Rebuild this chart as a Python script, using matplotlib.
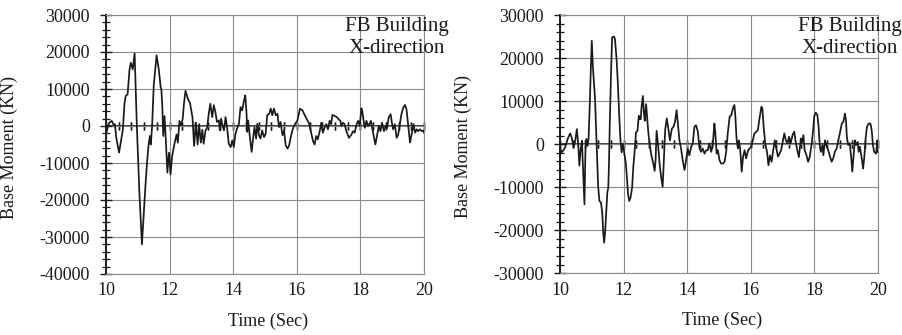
import numpy as np
import matplotlib
matplotlib.use("Agg")
import matplotlib.pyplot as plt
from matplotlib.ticker import MultipleLocator

# ---------------- data ----------------
t_left = [10.00, 10.05, 10.10, 10.18, 10.24, 10.28, 10.32, 10.41, 10.48, 10.53, 10.58, 10.62, 10.68,
          10.74, 10.78, 10.84, 10.90, 10.97, 11.05, 11.13, 11.24, 11.29, 11.34, 11.38, 11.41, 11.45,
          11.50, 11.59, 11.66, 11.72, 11.74, 11.77, 11.80, 11.84, 11.88, 11.93, 11.98, 12.03, 12.08,
          12.16, 12.22, 12.26, 12.31, 12.36, 12.41, 12.45, 12.50, 12.58, 12.64, 12.72, 12.77, 12.83,
          12.88, 12.93, 12.98, 13.03, 13.07, 13.13, 13.18, 13.23, 13.28, 13.34, 13.39, 13.44, 13.49,
          13.55, 13.58, 13.62, 13.66, 13.71, 13.76, 13.81, 13.86, 13.92, 13.97, 14.02, 14.07, 14.12,
          14.18, 14.23, 14.28, 14.34, 14.38, 14.42, 14.44, 14.47, 14.53, 14.58, 14.63, 14.67, 14.72,
          14.76, 14.81, 14.86, 14.91, 14.97, 15.02, 15.07, 15.13, 15.18, 15.23, 15.28, 15.34, 15.39,
          15.44, 15.49, 15.55, 15.60, 15.65, 15.71, 15.76, 15.81, 15.86, 15.92, 16.02, 16.10, 16.18,
          16.23, 16.28, 16.39, 16.45, 16.51, 16.56, 16.61, 16.66, 16.72, 16.77, 16.82, 16.87, 16.93,
          16.98, 17.03, 17.08, 17.12, 17.19, 17.26, 17.32, 17.37, 17.40, 17.45, 17.50, 17.56, 17.64,
          17.72, 17.77, 17.82, 17.88, 17.93, 17.98, 18.03, 18.06, 18.11, 18.14, 18.19, 18.24, 18.29,
          18.33, 18.37, 18.42, 18.47, 18.53, 18.58, 18.63, 18.68, 18.74, 18.79, 18.84, 18.89, 18.95,
          18.99, 19.03, 19.08, 19.14, 19.19, 19.24, 19.29, 19.35, 19.40, 19.45, 19.51, 19.56, 19.61,
          19.67, 19.72, 19.77, 19.82, 19.87, 19.93, 19.98, 20.00]
m_left = [-2300, -500, 800, 1400, 300, 500, -3000, -7200, -3500, -1000, 6000, 8100, 8600,
          15300, 17100, 15300, 19600, 0, -18000, -32000, -16200, -9900, -5000, -2700, -5000, 0,
          10800, 19100, 15300, 10400, 10000, 5400, -2700, 2700, -3600, -12600, -7200, -13100, -8100,
          -4500, -2300, -4500, 1400, 200, 1800, 5900, 9500, 7200, 6300, 2300, -5400, 900,
          -5000, 500, -4500, -1000, -4800, -1200, -500, 3300, 6000, 2400, 5600, 3800, 1100,
          1500, -1200, 2000, 200, -1200, 2400, -600, -4800, -5700, -3900, -5700, -2100, -700,
          600, 5100, 4200, 6900, 8300, 3300, -1600, 1500, -3400, -7000, -3000, -300, -3400,
          600, -2500, -3400, -1200, -3000, -2100, 2900, 3300, 4700, 2900, 4700, 2900, 3300,
          -300, 1100, -2500, -1200, -5200, -6100, -5200, -3000, -1200, 200, 1500, 4700, 4200,
          3300, 2400, 600, -1800, -4100, -5000, -2700, -3600, -1400, 900, -1800, -500, 500,
          -900, 1400, 500, 3000, 2700, 2400, 1800, 1400, 0, 900, 500, -1400, -3200,
          -2300, -1400, -1800, 500, 1400, 0, 4800, 4000, 900, -500, 1400, 0, 600,
          1400, -500, -2700, -5000, -2300, 0, -1400, 900, -1400, 0, -500, 2300, 3200,
          900, -900, 500, -3200, -2300, 500, 3200, 5000, 5700, 4500, -500, -4500, -2300,
          500, -1800, -900, -1400, -900, -1400, -1200, -1800]

t_right = [10.00, 10.05, 10.10, 10.16, 10.24, 10.32, 10.37, 10.43, 10.48, 10.53, 10.57, 10.61, 10.65,
           10.69, 10.73, 10.77, 10.80, 10.83, 10.87, 10.90, 10.94, 10.97, 11.00, 11.04, 11.10, 11.14,
           11.17, 11.20, 11.24, 11.29, 11.33, 11.36, 11.39, 11.42, 11.46, 11.49, 11.52, 11.54, 11.57,
           11.61, 11.64, 11.70, 11.73, 11.78, 11.82, 11.86, 11.90, 11.94, 11.98, 12.02, 12.07, 12.11,
           12.14, 12.18, 12.22, 12.27, 12.31, 12.35, 12.39, 12.44, 12.48, 12.51, 12.54, 12.57, 12.61,
           12.64, 12.67, 12.71, 12.74, 12.78, 12.82, 12.88, 12.93, 12.98, 13.01, 13.04, 13.09, 13.14,
           13.18, 13.23, 13.26, 13.31, 13.36, 13.41, 13.46, 13.52, 13.57, 13.62, 13.67, 13.70, 13.76,
           13.81, 13.86, 13.92, 13.97, 14.02, 14.07, 14.13, 14.18, 14.23, 14.28, 14.34, 14.39, 14.44,
           14.49, 14.55, 14.60, 14.65, 14.70, 14.76, 14.81, 14.86, 14.89, 14.93, 14.97, 15.02, 15.07,
           15.13, 15.18, 15.23, 15.28, 15.34, 15.39, 15.44, 15.49, 15.52, 15.56, 15.60, 15.63, 15.67,
           15.72, 15.76, 15.81, 15.86, 15.92, 15.97, 16.02, 16.07, 16.12, 16.18, 16.23, 16.28, 16.34,
           16.37, 16.41, 16.46, 16.52, 16.56, 16.61, 16.66, 16.71, 16.76, 16.81, 16.86, 16.91, 16.96,
           17.01, 17.06, 17.11, 17.16, 17.21, 17.26, 17.32, 17.37, 17.42, 17.47, 17.52, 17.58, 17.62,
           17.66, 17.70, 17.76, 17.81, 17.86, 17.92, 17.97, 18.00, 18.05, 18.10, 18.14, 18.18, 18.21,
           18.26, 18.29, 18.34, 18.38, 18.44, 18.49, 18.55, 18.60, 18.65, 18.71, 18.76, 18.82, 18.87,
           18.92, 18.97, 19.00, 19.03, 19.07, 19.12, 19.16, 19.20, 19.24, 19.28, 19.32, 19.37, 19.40,
           19.44, 19.49, 19.54, 19.58, 19.62, 19.66, 19.72, 19.77, 19.81, 19.85, 19.89, 19.95, 19.99,
           20.00]
m_right = [-800, -1900, -1500, -800, 1200, 2500, 1500, -800, 800, 3500, 400, -5000, -1200,
           800, -6600, -14000, -1500, 1200, -400, 1500, 9700, 17400, 24000, 17400, 10900, 2700,
           -3500, -9700, -13200, -13600, -15900, -20500, -22900, -20500, -15100, -11200, -10100, -5000, 5800,
           17400, 24800, 25000, 24400, 19800, 14300, 7400, 1200, -1900, 0, -1900, -4300, -8100,
           -11600, -13200, -12400, -10100, -5000, -1600, 2700, 3100, 6600, 5800, 5800, 8900, 11200,
           7400, 5400, 9300, 6600, 2700, 0, -2700, -4300, -6200, -3500, 3100, -400, -5000,
           -7400, -9900, -5300, 3300, 6000, 3600, 900, 3600, 4000, 5200, 7900, 5600, 900,
           -1000, -3700, -6000, -3700, -1000, -2600, -600, 200, 4000, 4400, 2900, -1000, -1800,
           -1000, -2200, -1400, -1400, 200, -1800, 0, 4800, 2500, -2200, -1400, -3700, -4500,
           -4500, -4100, -1800, 2500, 6400, 6700, 8300, 9100, 6400, 900, -1000, 900, -1000,
           -6400, -3000, -1400, -3300, -1400, -1000, -600, 900, 2500, 2900, 3300, 6000, 8700,
           8300, 4000, 200, -2000, -4900, -2600, -4100, -1500, 900, -1000, -2900, -2200, -1400,
           500, 2500, 900, 200, 1700, 200, 2100, 2900, 500, -1400, -3000, 1300, 500,
           2100, -1400, -2600, -4100, -3000, 0, 3300, 6400, 7300, 6800, 4000, -600, -1800,
           -200, -2600, 900, -200, -1400, -2600, -4100, -3300, -1800, -1000, 900, 2900, 4800,
           5200, 7100, 5600, 1700, -200, 200, -2600, -6400, -2900, 900, -200, 500, -1800,
           -600, -2900, -5700, -2900, 1300, 4000, 4800, 4800, 3300, -200, -1800, -2200, 900,
           -1800]

x_limits = (10, 20)
ylim_left = (-40000, 30000)
ylim_right = (-30000, 30000)
x_label = "Time (Sec)"
y_label = "Base Moment (KN)"
note_lines = ["FB Building", "X-direction"]

# ---------------- style ----------------
plt.rcParams['font.family'] = ['Liberation Serif', 'DejaVu Serif']
plt.rcParams['axes.unicode_minus'] = False
W, H = 902, 335
fig = plt.figure(figsize=(W / 100, H / 100), dpi=100)

GRID = '#8a8a8a'
INK = '#1a1a1a'


def make_panel(rect, t, m, ylim, note_cx):
    ax = fig.add_axes(rect)
    ax.plot(t, m, color=INK, lw=1.25, zorder=3)
    ax.set_xlim(*x_limits)
    ax.set_ylim(*ylim)
    ax.xaxis.set_major_locator(MultipleLocator(2))
    ax.yaxis.set_major_locator(MultipleLocator(10000))
    ax.yaxis.set_minor_locator(MultipleLocator(2000))
    ax.grid(True, which='major', color=GRID, lw=0.8, zorder=1)
    for s in ['top', 'right', 'bottom']:
        ax.spines[s].set_color(GRID)
        ax.spines[s].set_linewidth(0.8)
    ax.spines['left'].set_color(INK)
    ax.spines['left'].set_linewidth(1.4)
    ax.tick_params(axis='x', which='both', length=0, pad=6, labelsize=13, colors=INK)
    ax.tick_params(axis='y', which='major', direction='inout', length=8, width=1.0,
                   pad=7.5, labelsize=13, colors=INK)
    ax.tick_params(axis='y', which='minor', direction='inout', length=6, width=0.9, colors=INK)
    ax.set_xlabel(x_label, fontsize=13, color=INK)
    ax.set_ylabel(y_label, fontsize=13, color=INK)
    ax.xaxis.set_label_coords(0.51, -0.149)
    ax.yaxis.set_label_coords(-0.277, 0.49)

    # zero line with its own ticks
    y0 = (0 - ylim[0]) / (ylim[1] - ylim[0])
    sec = ax.secondary_xaxis(y0)
    for s in sec.spines.values():
        s.set_color(INK)
        s.set_linewidth(1.2)
    sec.xaxis.set_major_locator(MultipleLocator(2))
    sec.xaxis.set_minor_locator(MultipleLocator(0.4))
    sec.tick_params(axis='x', which='both', direction='inout', length=6, width=1.0,
                    colors=INK, labeltop=False, labelbottom=False, top=True, bottom=True)

    fig.text(note_cx / W, 1 - 30.7 / H, note_lines[0], ha='center', va='baseline',
             fontsize=15, color=INK)
    fig.text(note_cx / W, 1 - 53.3 / H, note_lines[1], ha='center', va='baseline',
             fontsize=15, color=INK)
    return ax


make_panel([106 / W, 1 - 274 / H, 318 / W, 259 / H], t_left, m_left, ylim_left, 396.7)
make_panel([560 / W, 1 - 273.3 / H, 317.7 / W, 258.3 / H], t_right, m_right, ylim_right, 849.5)

fig.savefig("out.png", dpi=100)
